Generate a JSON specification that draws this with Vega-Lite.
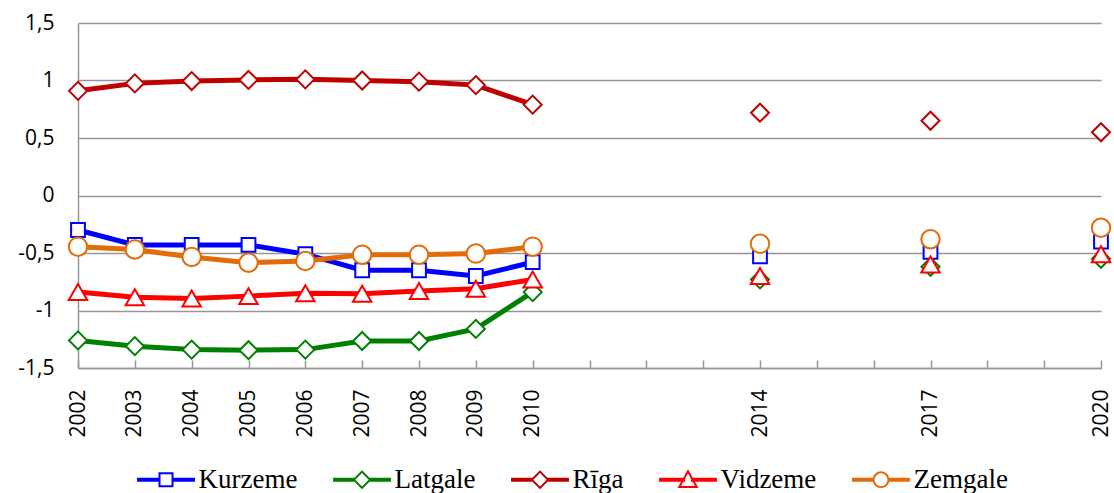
{
  "$schema": "https://vega.github.io/schema/vega-lite/v6.json",
  "autosize": {"type": "none"},
  "width": 1023,
  "height": 345,
  "padding": {"left": 78, "top": 23, "right": 13, "bottom": 125},
  "background": "white",
  "config": {"view": {"stroke": null}, "legend": {"padding": 0, "offset": 0}},
  "data": {"values": [
    {"year": 2002, "region": "Kurzeme", "value": -0.30},
    {"year": 2003, "region": "Kurzeme", "value": -0.43},
    {"year": 2004, "region": "Kurzeme", "value": -0.43},
    {"year": 2005, "region": "Kurzeme", "value": -0.43},
    {"year": 2006, "region": "Kurzeme", "value": -0.51},
    {"year": 2007, "region": "Kurzeme", "value": -0.65},
    {"year": 2008, "region": "Kurzeme", "value": -0.65},
    {"year": 2009, "region": "Kurzeme", "value": -0.70},
    {"year": 2010, "region": "Kurzeme", "value": -0.58},
    {"year": 2014, "region": "Kurzeme", "value": -0.53},
    {"year": 2017, "region": "Kurzeme", "value": -0.49},
    {"year": 2020, "region": "Kurzeme", "value": -0.40},
    {"year": 2002, "region": "Latgale", "value": -1.26},
    {"year": 2003, "region": "Latgale", "value": -1.31},
    {"year": 2004, "region": "Latgale", "value": -1.34},
    {"year": 2005, "region": "Latgale", "value": -1.345},
    {"year": 2006, "region": "Latgale", "value": -1.34},
    {"year": 2007, "region": "Latgale", "value": -1.265},
    {"year": 2008, "region": "Latgale", "value": -1.265},
    {"year": 2009, "region": "Latgale", "value": -1.16},
    {"year": 2010, "region": "Latgale", "value": -0.84},
    {"year": 2014, "region": "Latgale", "value": -0.73},
    {"year": 2017, "region": "Latgale", "value": -0.62},
    {"year": 2020, "region": "Latgale", "value": -0.55},
    {"year": 2002, "region": "Rīga", "value": 0.91},
    {"year": 2003, "region": "Rīga", "value": 0.975},
    {"year": 2004, "region": "Rīga", "value": 0.995},
    {"year": 2005, "region": "Rīga", "value": 1.005},
    {"year": 2006, "region": "Rīga", "value": 1.01},
    {"year": 2007, "region": "Rīga", "value": 1.0},
    {"year": 2008, "region": "Rīga", "value": 0.99},
    {"year": 2009, "region": "Rīga", "value": 0.96},
    {"year": 2010, "region": "Rīga", "value": 0.79},
    {"year": 2014, "region": "Rīga", "value": 0.72},
    {"year": 2017, "region": "Rīga", "value": 0.65},
    {"year": 2020, "region": "Rīga", "value": 0.55},
    {"year": 2002, "region": "Vidzeme", "value": -0.84},
    {"year": 2003, "region": "Vidzeme", "value": -0.885},
    {"year": 2004, "region": "Vidzeme", "value": -0.895},
    {"year": 2005, "region": "Vidzeme", "value": -0.875},
    {"year": 2006, "region": "Vidzeme", "value": -0.85},
    {"year": 2007, "region": "Vidzeme", "value": -0.855},
    {"year": 2008, "region": "Vidzeme", "value": -0.83},
    {"year": 2009, "region": "Vidzeme", "value": -0.81},
    {"year": 2010, "region": "Vidzeme", "value": -0.73},
    {"year": 2014, "region": "Vidzeme", "value": -0.70},
    {"year": 2017, "region": "Vidzeme", "value": -0.60},
    {"year": 2020, "region": "Vidzeme", "value": -0.51},
    {"year": 2002, "region": "Zemgale", "value": -0.445},
    {"year": 2003, "region": "Zemgale", "value": -0.47},
    {"year": 2004, "region": "Zemgale", "value": -0.535},
    {"year": 2005, "region": "Zemgale", "value": -0.585},
    {"year": 2006, "region": "Zemgale", "value": -0.57},
    {"year": 2007, "region": "Zemgale", "value": -0.515},
    {"year": 2008, "region": "Zemgale", "value": -0.515},
    {"year": 2009, "region": "Zemgale", "value": -0.505},
    {"year": 2010, "region": "Zemgale", "value": -0.445},
    {"year": 2014, "region": "Zemgale", "value": -0.42},
    {"year": 2017, "region": "Zemgale", "value": -0.38},
    {"year": 2020, "region": "Zemgale", "value": -0.28}
  ]},
  "encoding": {
    "x": {
      "field": "year", "type": "quantitative",
      "scale": {"domain": [2002, 2020], "nice": false, "zero": false},
      "axis": {
        "title": null,
        "values": [2002,2003,2004,2005,2006,2007,2008,2009,2010,2011,2012,2013,2014,2015,2016,2017,2018,2019,2020],
        "labelExpr": "(datum.value <= 2010 || datum.value == 2014 || datum.value == 2017 || datum.value == 2020) ? toString(datum.value) : ''",
        "labelAngle": 270,
        "labelFont": "Open Sans",
        "labelFontSize": 21,
        "labelColor": "black",
        "labelPadding": 29,
        "labelOverlap": false,
        "labelFlush": false,
        "tickSize": -8,
        "tickColor": "#969696",
        "tickWidth": 1.5,
        "domainColor": "#969696",
        "domainWidth": 1.5,
        "grid": false
      }
    },
    "y": {
      "field": "value", "type": "quantitative",
      "scale": {"domain": [-1.5, 1.5], "nice": false},
      "axis": {
        "title": null,
        "values": [-1.5, -1, -0.5, 0, 0.5, 1, 1.5],
        "labelExpr": "replace(toString(datum.value), '.', ',')",
        "labelFont": "Open Sans",
        "labelFontSize": 21,
        "labelColor": "black",
        "labelPadding": 24,
        "ticks": false,
        "domainColor": "#969696",
        "domainWidth": 1.5,
        "grid": true,
        "gridColor": "#969696",
        "gridWidth": 1.5
      }
    },
    "stroke": {
      "field": "region", "type": "nominal",
      "scale": {
        "domain": ["Kurzeme", "Latgale", "Rīga", "Vidzeme", "Zemgale"],
        "range": ["#0000FF", "#008000", "#C00000", "#FF0000", "#E36C09"]
      },
      "legend": {
        "title": null,
        "orient": "none",
        "legendX": 60,
        "legendY": 443,
        "direction": "horizontal",
        "columnPadding": 32,
        "symbolSize": 169,
        "symbolOffset": 14.5,
        "labelOffset": 19,
        "symbolStrokeWidth": 2,
        "symbolFillColor": "white",
        "symbolOpacity": 1,
        "labelFont": "Liberation Serif",
        "labelFontSize": 27,
        "labelColor": "black",
        "labelLimit": 300
      }
    }
  },
  "layer": [
    {
      "transform": [{"filter": "datum.year <= 2010"}],
      "mark": {"type": "line", "strokeWidth": 5},
      "encoding": {"detail": {"field": "region"}}
    },
    {
      "transform": [{"filter": "datum.region == 'Kurzeme'"}],
      "mark": {"type": "point", "shape": "square", "size": 190, "filled": true, "fill": "white", "strokeWidth": 2, "opacity": 1}
    },
    {
      "transform": [{"filter": "datum.region == 'Latgale' || datum.region == 'Rīga'"}],
      "mark": {"type": "point", "shape": "diamond", "size": 324, "filled": true, "fill": "white", "strokeWidth": 2, "opacity": 1}
    },
    {
      "transform": [{"filter": "datum.region == 'Vidzeme'"}],
      "mark": {"type": "point", "shape": "triangle-up", "size": 340, "filled": true, "fill": "white", "strokeWidth": 2, "opacity": 1}
    },
    {
      "transform": [{"filter": "datum.region == 'Zemgale'"}],
      "mark": {"type": "point", "shape": "circle", "size": 340, "filled": true, "fill": "white", "strokeWidth": 2, "opacity": 1}
    },
    {
      "transform": [{"filter": "datum.year > 3000"}],
      "mark": {"type": "point", "filled": true, "fill": "white", "strokeWidth": 2, "opacity": 1, "size": 169},
      "encoding": {
        "shape": {
          "field": "region", "type": "nominal",
          "scale": {
            "domain": ["Kurzeme", "Latgale", "Rīga", "Vidzeme", "Zemgale"],
            "range": [
              "M-4.3,-0.15H-1V0.15H-4.3Z M1,-0.15H4.3V0.15H1Z M-1,-1H1V1H-1Z",
              "M-4.3,-0.15H-1.25V0.15H-4.3Z M1.25,-0.15H4.3V0.15H1.25Z M-1.25,0L0,-1.25L1.25,0L0,1.25Z",
              "M-4.3,-0.15H-1.25V0.15H-4.3Z M1.25,-0.15H4.3V0.15H1.25Z M-1.25,0L0,-1.25L1.25,0L0,1.25Z",
              "M-4.3,-0.15H-0.6V0.15H-4.3Z M0.6,-0.15H4.3V0.15H0.6Z M0,-1.3L1.35,1.1H-1.35Z",
              "M-4.3,-0.15H-1.15V0.15H-4.3Z M1.15,-0.15H4.3V0.15H1.15Z M1.15,0A1.15,1.15 0 1,1 -1.15,0A1.15,1.15 0 1,1 1.15,0Z"
            ]
          },
          "legend": {
            "title": null,
            "orient": "none",
            "legendX": 60,
            "legendY": 443,
            "direction": "horizontal",
            "columnPadding": 32,
            "symbolSize": 169,
            "symbolOffset": 14.5,
            "labelOffset": 19,
            "symbolStrokeWidth": 2,
            "symbolFillColor": "white",
            "symbolOpacity": 1,
            "labelFont": "Liberation Serif",
            "labelFontSize": 27,
            "labelColor": "black",
            "labelLimit": 300
          }
        }
      }
    }
  ]
}
